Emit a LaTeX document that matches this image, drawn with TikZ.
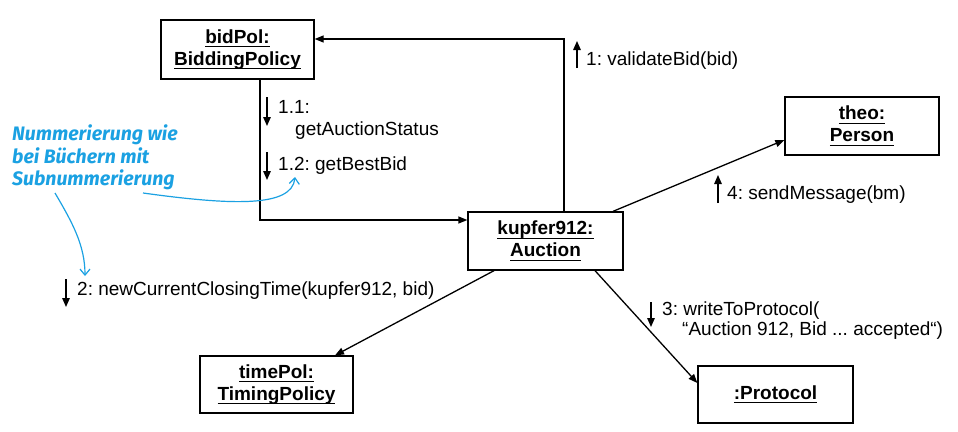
\documentclass[tikz,border=0pt]{standalone}
\usepackage{fontspec}
\setmainfont{Liberation Sans}
\newfontfamily\notefont{Fira Sans}
\usetikzlibrary{arrows.meta}
\definecolor{noteblue}{RGB}{27,161,226}
\newsavebox\ulsave
\newcommand{\ulbox}[1]{\sbox\ulsave{#1}\rlap{\rule[-4pt]{\wd\ulsave}{1.3pt}}\usebox\ulsave}
\frenchspacing
\begin{document}
\begin{tikzpicture}[x=1pt,y=-1pt,
 obj/.style={draw,line width=1.3pt,inner sep=0pt,align=center,font=\fontsize{19}{22}\selectfont\bfseries},
 conn/.style={line width=1.3pt,-{Triangle[length=9pt,width=7pt]}},
 msg/.style={line width=1.4pt,-{Triangle[length=9pt,width=7.5pt]}},
 lbl/.style={anchor=base west,inner sep=0pt,font=\fontsize{19}{22}\selectfont},
 note/.style={anchor=base west,inner sep=0pt,font=\notefont\bfseries\itshape\fontsize{19.5}{22}\selectfont,text=noteblue},
 notearr/.style={draw=noteblue,line width=1.2pt,-{Straight Barb[length=6pt,width=10pt]}}]
\useasboundingbox (0,0) rectangle (958,431);

% objects
\node[obj,minimum width=153pt,minimum height=59pt] (bidPol) at (237.5,49.5) {\ulbox{bidPol:}\\\ulbox{BiddingPolicy}};
\node[obj,minimum width=155pt,minimum height=58pt] (kupfer) at (545.5,241) {\ulbox{kupfer912:}\\\ulbox{Auction}};
\node[obj,minimum width=154pt,minimum height=58pt] (theo) at (862,126) {\ulbox{theo:}\\\ulbox{Person}};
\node[obj,minimum width=153pt,minimum height=57pt] (timePol) at (276.5,384.5) {\ulbox{timePol:}\\\ulbox{TimingPolicy}};
\node[obj,minimum width=155pt,minimum height=57pt] (protocol) at (775.5,394.5) {\ulbox{:Protocol}};

% links
\draw[conn] ([xshift=18.5pt]kupfer.north) |- ([yshift=10.5pt]bidPol.east);
\draw[conn] ([xshift=22.5pt]bidPol.south) |- ([yshift=21pt]kupfer.west);
\draw[conn] ([xshift=67.5pt]kupfer.north) -- ([yshift=-14pt]theo.west);
\draw[conn] ([xshift=-51.5pt]kupfer.south) -- ([xshift=58.5pt]timePol.north);
\draw[conn] ([xshift=49.5pt]kupfer.south) -- ([yshift=11.5pt]protocol.west);

% message labels
\node[lbl] (l1) at (586,65) {1: validateBid(bid)};
\node[lbl] (l11) at (278,113) {1.1:};
\node[lbl] (l11b) at (295,135.5) {getAuctionStatus};
\node[lbl] (l12) at (278,170) {1.2: getBestBid};
\node[lbl] (l4) at (727,199) {4: sendMessage(bm)};
\node[lbl] (l2) at (77,295) {2: newCurrentClosingTime(kupfer912, bid)};
\node[lbl] (l3) at (662,315) {3: writeToProtocol(};
\node[lbl] (l3b) at (682,335) {“Auction 912, Bid ... accepted“)};

% message direction arrows
\coordinate (a1s) at (577,68); \coordinate (a1e) at (577,41);
\coordinate (a11s) at (267,97); \coordinate (a11e) at (267,126);
\coordinate (a12s) at (267,152); \coordinate (a12e) at (267,180);
\coordinate (a4s) at (718,203); \coordinate (a4e) at (718,175);
\coordinate (a2s) at (66,279); \coordinate (a2e) at (66,307);
\coordinate (a3s) at (651,302); \coordinate (a3e) at (651,327);
\draw[msg] (a1s) -- (a1e);
\draw[msg] (a11s) -- (a11e);
\draw[msg] (a12s) -- (a12e);
\draw[msg] (a4s) -- (a4e);
\draw[msg] (a2s) -- (a2e);
\draw[msg] (a3s) -- (a3e);

% note
\node[note] (n1) at (12,140) {Nummerierung wie};
\node[note] (n2) at (12,163) {bei Büchern mit};
\node[note] (n3) at (12,185) {Subnummerierung};
\coordinate (b1s) at (143,193); \coordinate (b1e) at (295,177);
\coordinate (b2s) at (55,193); \coordinate (b2e) at (85,276);
\draw[notearr] (b1s) .. controls (230,205) and (292,208) .. (b1e);
\draw[notearr] (b2s) .. controls (72,222) and (85,245) .. (b2e);
\end{tikzpicture}
\end{document}
